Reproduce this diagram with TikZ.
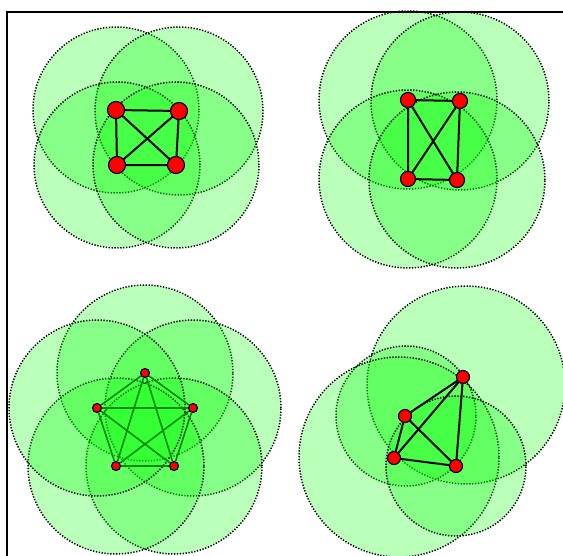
\documentclass[tikz,border=0pt]{standalone}
\usetikzlibrary{backgrounds}
\tikzset{every picture/.style={line width=0.75pt}}
\tikzset{
    vtx/.style={circle, draw=black, fill=red, line width=1.1pt, inner sep=0pt, minimum size=#1},
    vtx/.default=15pt,
    cover/.style={draw=black, line width=1.5pt, dash pattern=on 1.3pt off 1.6pt, fill=green, fill opacity=0.27, draw opacity=1},
    link/.style={draw=black, line width=2pt},
    glink/.style={draw=green!55!black, line width=1.6pt},
    frame/.style={draw=black, line width=1.6pt},
}
\begin{document}
\begin{tikzpicture}[x=1pt, y=-1pt]
    \useasboundingbox (0,0) rectangle (563,555);
    \draw[frame] (7,12) rectangle (570,560);
    \node[vtx=17pt] (a1) at (116,110) {};
    \node[vtx=17pt] (a2) at (179,111) {};
    \node[vtx=17pt] (a3) at (117,165) {};
    \node[vtx=17pt] (a4) at (176,165) {};
    \node[vtx=15pt] (b1) at (408,100) {};
    \node[vtx=15pt] (b2) at (460,101) {};
    \node[vtx=15pt] (b3) at (408,179) {};
    \node[vtx=15pt] (b4) at (457,180) {};
    \node[vtx=9pt] (c1) at (145,373) {};
    \node[vtx=9pt] (c2) at (193,408) {};
    \node[vtx=9pt] (c3) at (174,466) {};
    \node[vtx=9pt] (c4) at (116,466) {};
    \node[vtx=9pt] (c5) at (97,408) {};
    \node[vtx=13pt] (d1) at (463,377) {};
    \node[vtx=13pt] (d2) at (405,416) {};
    \node[vtx=13pt] (d3) at (394,458) {};
    \node[vtx=13pt] (d4) at (456,466) {};
    \begin{scope}[on background layer]
        \draw[cover] (a1.center) circle[radius=83pt];
        \draw[cover] (a2.center) circle[radius=84pt];
        \draw[cover] (a3.center) circle[radius=83pt];
        \draw[cover] (a4.center) circle[radius=83pt];
        \draw[cover] (b1.center) circle[radius=89pt];
        \draw[cover] (b2.center) circle[radius=89pt];
        \draw[cover] (b3.center) circle[radius=89pt];
        \draw[cover] (b4.center) circle[radius=88pt];
        \draw[cover] (c1.center) circle[radius=88pt];
        \draw[cover] (c2.center) circle[radius=88pt];
        \draw[cover] (c3.center) circle[radius=88pt];
        \draw[cover] (c4.center) circle[radius=88pt];
        \draw[cover] (c5.center) circle[radius=88pt];
        \draw[cover] ([shift={(3,8)}]d1.center) circle[radius=99pt];
        \draw[cover] ([shift={(1,0)}]d2.center) circle[radius=70pt];
        \draw[cover] ([shift={(5,-1)}]d3.center) circle[radius=100pt];
        \draw[cover] (d4.center) circle[radius=70pt];
        \draw[link] (a1.center) -- (a2.center) -- (a4.center) -- (a3.center) -- cycle;
        \draw[link] (a1.center) -- (a4.center);
        \draw[link] (a2.center) -- (a3.center);
        \draw[link] (b1.center) -- (b2.center) -- (b4.center) -- (b3.center) -- cycle;
        \draw[link] (b1.center) -- (b4.center);
        \draw[link] (b2.center) -- (b3.center);
        \draw[glink] (c1) -- (c2) -- (c3) -- (c4) -- (c5) -- (c1);
        \draw[glink] (c1) -- (c3) -- (c5) -- (c2) -- (c4) -- (c1);
        \draw[link] (d1) -- (d2) -- (d3) -- (d4) -- (d1) -- (d3);
        \draw[link] (d2) -- (d4);
    \end{scope}
\end{tikzpicture}
\end{document}
